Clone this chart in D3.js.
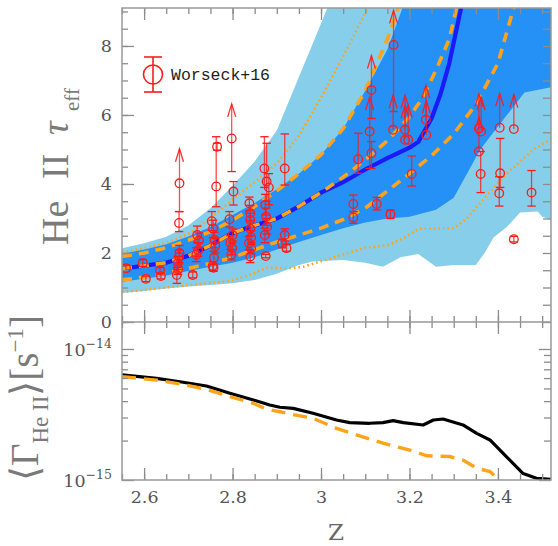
<!DOCTYPE html>
<html><head><meta charset="utf-8">
<script src="https://cdn.jsdelivr.net/npm/d3@7"></script>
<style>body{margin:0;background:#fff}</style>
</head><body><svg id="c" width="558" height="546"></svg>
<script>
// ---------------- data ----------------
const zMajor = [2.6, 2.8, 3.0, 3.2, 3.4];
const zMinor = d3.range(2.55, 3.5201, 0.05).map(v => +v.toFixed(2));
const tauMajor = [0, 2, 4, 6, 8];
const tauMinor = d3.range(0, 9.01, 0.5);
const gammaMajor = [1e-15, 1e-14];
const gammaMinor = [2e-15, 3e-15, 4e-15, 5e-15, 6e-15, 7e-15, 8e-15, 9e-15];

// model bands [z, tau]
const lightUpper = [[2.55,2.14],[2.6,2.28],[2.65,2.47],[2.7,2.8],[2.75,3.3],[2.8,3.95],[2.85,4.65],[2.9,5.55],[2.95,7.1],[3.0,8.65],[3.03,9.6],[3.1,12],[3.52,12]];
const lightLower = [[2.55,0.84],[2.6,0.9],[2.65,0.97],[2.7,1.03],[2.75,1.07],[2.8,1.12],[2.85,1.22],[2.9,1.4],[2.95,1.65],[2.98,1.75],[3.05,1.8],[3.1,1.72],[3.14,1.6],[3.18,1.88],[3.22,1.97],[3.26,1.6],[3.3,1.65],[3.35,1.65],[3.37,2.0],[3.39,2.45],[3.42,2.75],[3.45,3.17],[3.49,3.2],[3.5,3.05],[3.52,2.96]];
const darkUpper = [[2.55,1.98],[2.6,2.1],[2.65,2.25],[2.7,2.48],[2.75,2.75],[2.8,3.1],[2.85,3.45],[2.9,3.85],[2.95,4.3],[3.0,4.85],[3.05,5.6],[3.1,6.7],[3.15,7.9],[3.19,9.3],[3.25,12],[3.52,12]];
const darkLower = [[2.55,1.17],[2.6,1.25],[2.65,1.35],[2.7,1.48],[2.75,1.6],[2.8,1.72],[2.85,1.88],[2.9,2.1],[2.95,2.32],[3.0,2.52],[3.05,2.72],[3.1,2.88],[3.15,3.0],[3.2,3.05],[3.26,3.25],[3.3,3.6],[3.33,4.3],[3.36,5.0],[3.39,5.5],[3.46,6.65],[3.52,6.8]];
// model lines [z, tau]
const medianLine = [[2.55,1.55],[2.6,1.63],[2.65,1.72],[2.7,1.92],[2.75,2.22],[2.8,2.58],[2.85,2.8],[2.9,3.0],[2.95,3.35],[3.0,3.75],[3.05,4.05],[3.1,4.42],[3.15,4.75],[3.2,5.05],[3.22,5.22],[3.25,5.9],[3.27,6.6],[3.29,7.5],[3.32,9.3]];
const dashUpper = [[2.55,1.9],[2.6,2.0],[2.65,2.15],[2.7,2.37],[2.75,2.62],[2.8,2.95],[2.85,3.35],[2.9,3.8],[2.95,4.3],[3.0,4.85],[3.05,5.6],[3.1,6.7],[3.15,8.2],[3.18,9.3]];
const dashMid = [[2.55,1.55],[2.6,1.63],[2.65,1.72],[2.7,1.92],[2.75,2.22],[2.8,2.58],[2.85,2.8],[2.9,3.0],[2.95,3.35],[3.0,3.75],[3.05,4.2],[3.1,4.7],[3.15,5.25],[3.2,5.95],[3.23,6.5],[3.26,7.3],[3.29,8.2],[3.31,9.3]];
const dashLower = [[2.55,1.22],[2.6,1.3],[2.65,1.42],[2.7,1.55],[2.75,1.7],[2.8,1.87],[2.85,2.1],[2.9,2.32],[2.95,2.52],[3.0,2.72],[3.05,2.97],[3.1,3.3],[3.15,3.8],[3.2,4.3],[3.25,4.82],[3.3,5.45],[3.35,6.3],[3.4,7.5],[3.44,9.3]];
const dotUpper = [[2.55,2.02],[2.6,2.14],[2.65,2.3],[2.7,2.55],[2.75,3.0],[2.8,3.55],[2.85,4.05],[2.9,4.6],[2.95,5.4],[3.0,6.5],[3.05,7.7],[3.1,8.95],[3.12,9.4]];
const dotLower = [[2.55,0.87],[2.6,0.93],[2.65,1.0],[2.7,1.07],[2.75,1.13],[2.8,1.2],[2.85,1.42],[2.88,1.58],[2.92,1.55],[2.96,1.6],[3.03,1.88],[3.1,2.15],[3.15,2.22],[3.19,2.45],[3.22,2.7],[3.3,2.72],[3.33,3.0],[3.37,3.6],[3.42,4.3],[3.48,5.0],[3.52,5.3]];

// observations (Worseck+16)
const obsZ = [2.559,2.597,2.604,2.636,2.638,2.674,2.677,2.676,2.679,2.68,2.679,2.68,2.71,2.718,2.722,2.724,2.72,2.757,2.755,2.758,2.761,2.759,2.756,2.753,2.763,2.765,2.798,2.802,2.793,2.80,2.795,2.799,2.797,2.838,2.84,2.84,2.84,2.842,2.837,2.842,2.84,2.872,2.877,2.882,2.874,2.876,2.878,2.873,2.875,2.918,2.918,2.912,2.922,3.073,3.073,3.084,3.114,3.11,3.114,3.126,3.157,3.163,3.164,3.19,3.19,3.197,3.205,3.237,3.238,3.357,3.362,3.357,3.361,3.404,3.405,3.403,3.436,3.476,3.436];
const obsTau = [1.56,1.71,1.25,1.49,1.33,1.36,1.53,1.70,1.89,2.0,2.87,4.02,1.36,1.95,2.08,2.36,2.52,1.57,1.62,1.86,2.2,2.38,2.71,2.92,3.93,5.08,5.32,3.78,2.98,2.52,2.3,2.14,1.95,3.44,3.15,2.96,2.7,2.45,2.28,2.14,1.9,4.45,4.07,3.9,3.39,3.05,2.76,2.52,1.91,4.45,2.52,2.28,2.14,3.42,3.03,4.72,6.72,5.52,4.89,3.42,3.12,5.57,8.03,5.57,5.28,5.28,4.29,5.86,5.42,5.61,5.52,4.94,4.29,5.63,4.31,3.73,5.59,3.75,2.4];
const obsLo = [1.46,1.61,1.17,1.40,1.25,1.12,1.38,1.52,1.72,1.82,2.62,3.2,1.28,1.75,1.9,2.15,2.3,1.47,1.5,1.68,2.0,2.15,2.45,2.65,3.34,4.98,4.36,3.39,2.75,2.35,2.1,1.95,1.8,3.22,2.95,2.75,2.5,2.25,2.1,1.98,1.72,3.9,3.5,3.4,3.1,2.8,2.55,2.3,1.86,3.97,2.35,2.15,2.05,3.2,2.86,4.31,5.9,4.45,4.45,3.25,3.0,5.57,6.1,5.57,5.28,5.28,3.94,5.86,5.42,5.61,5.52,4.94,3.75,5.63,3.9,3.36,5.59,3.36,2.32];
const obsHi = [1.66,1.81,1.33,1.58,1.42,1.58,1.68,1.90,2.08,2.22,3.2,4.02,1.45,2.15,2.3,2.58,2.78,1.67,1.75,2.05,2.42,2.6,2.95,3.2,5.37,5.18,5.32,4.07,3.2,2.7,2.5,2.3,2.1,3.62,3.38,3.15,2.9,2.65,2.48,2.3,2.08,5.37,5.18,4.3,3.7,3.3,3.0,2.72,1.96,5.45,2.7,2.4,2.25,3.68,3.2,5.47,6.72,5.52,5.23,3.61,3.25,5.57,8.03,5.57,5.28,5.28,4.81,5.86,5.42,5.61,5.52,4.94,4.94,5.63,5.32,4.21,5.59,4.39,2.48];
const obsLimit = [0,0,0,0,0,0,0,0,0,0,0,1, 0,0,0,0,0, 0,0,0,0,0,0,0,0,0, 1,0,0,0,0,0,0, 0,0,0,0,0,0,0,0, 0,0,0,0,0,0,0,0, 0,0,0,0, 0,0,0, 1,1,0,0,0,1,1,1,1,1,0,1,1, 1,1,1,0,1,0,0,1,0,0];
const arrowLen = 1.0;

// photoionisation rate (units of 1e-15 s^-1)
const gammaZ = [2.55,2.628,2.681,2.741,2.794,2.847,2.884,2.907,2.937,2.982,3.035,3.065,3.11,3.14,3.163,3.186,3.231,3.254,3.276,3.321,3.352,3.382,3.419,3.457,3.487,3.52];
const gammaBlack = [6.34,5.97,5.62,5.22,4.59,4.08,3.74,3.59,3.52,3.23,2.87,2.74,2.71,2.74,2.84,2.74,2.63,2.87,2.92,2.63,2.27,2.02,1.51,1.12,1.03,1.01];
const gammaOrangeZ = [2.55,2.628,2.681,2.741,2.794,2.847,2.877,2.907,2.93,2.982,3.035,3.08,3.14,3.201,3.239,3.291,3.321,3.352,3.382,3.404,3.42];
const gammaOrange = [6.15,5.79,5.41,4.92,4.33,3.85,3.47,3.32,3.19,2.96,2.48,2.21,1.91,1.69,1.53,1.51,1.42,1.23,1.16,1.0,0.9];

// ---------------- drawing ----------------
const svg = d3.select("#c");
const X0 = 122, X1 = 551, YT0 = 8, YM = 322, YB1 = 480;
const x = d3.scaleLinear().domain([2.55, 3.52]).range([X0, X1]);
const yT = d3.scaleLinear().domain([0, 9.1]).range([YM, YT0]);
const yB = d3.scaleLog().domain([1e-15, Math.pow(10, -13.794)]).range([YB1, YM]);

const defs = svg.append("defs");
defs.append("clipPath").attr("id","clipT").append("rect").attr("x",X0).attr("y",YT0).attr("width",X1-X0).attr("height",YM-YT0);
defs.append("clipPath").attr("id","clipB").append("rect").attr("x",X0).attr("y",YM).attr("width",X1-X0).attr("height",YB1-YM);

const topG = svg.append("g").attr("clip-path","url(#clipT)");
const lineT = d3.line().x(d => x(d[0])).y(d => yT(d[1]));
function band(upper, lower) {
  return lineT(upper.concat(lower.slice().reverse())) + "Z";
}
topG.append("path").attr("d", band(lightUpper, lightLower)).attr("fill", "#87ceeb");
topG.append("path").attr("d", band(darkUpper, darkLower)).attr("fill", "#2590f5");

[dotUpper, dotLower].forEach(l => topG.append("path").attr("d", lineT(l))
  .attr("fill","none").attr("stroke","#ffa31a").attr("stroke-width",2.6).attr("stroke-dasharray","1.6,3"));
topG.append("path").attr("d", lineT(medianLine)).attr("fill","none")
  .attr("stroke","#1a1aff").attr("stroke-width",4.2);
[dashUpper, dashMid, dashLower].forEach(l => topG.append("path").attr("d", lineT(l))
  .attr("fill","none").attr("stroke","#ffa31a").attr("stroke-width",3.6).attr("stroke-dasharray","10,7"));

// observations
const red = "#ff1a1a";
const obs = obsZ.map((z,i) => ({z, t: obsTau[i], lo: obsLo[i], hi: obsHi[i], lim: obsLimit[i]}));
const og = topG.append("g").attr("stroke", red).attr("fill","none").attr("stroke-width",1.3);
obs.forEach(o => {
  const cx = x(o.z), cy = yT(o.t);
  const g = og.append("g");
  if (o.hi > o.lo) {
    g.append("line").attr("x1",cx).attr("x2",cx).attr("y1",yT(o.lo)).attr("y2",yT(o.hi)).attr("stroke-opacity",0.8);
    if (!(o.lim && Math.abs(o.hi - o.t) < 1e-6)) g.append("line").attr("x1",cx-4.2).attr("x2",cx+4.2).attr("y1",yT(o.hi)).attr("y2",yT(o.hi));
    g.append("line").attr("x1",cx-4.2).attr("x2",cx+4.2).attr("y1",yT(o.lo)).attr("y2",yT(o.lo));
  }
  if (o.lim) {
    const ty = yT(o.t + arrowLen);
    g.append("line").attr("x1",cx).attr("x2",cx).attr("y1",cy).attr("y2",ty).attr("stroke-opacity",0.75);
    g.append("path").attr("d", `M${cx-4},${ty+13}L${cx},${ty}L${cx+4},${ty+13}`).attr("stroke-opacity",0.9);
  }
  g.append("circle").attr("cx",cx).attr("cy",cy).attr("r",4.3);
});

// legend
const lg = svg.append("g").attr("stroke", red).attr("fill","none").attr("stroke-width",1.6);
lg.append("line").attr("x1",153).attr("x2",153).attr("y1",57).attr("y2",92);
lg.append("line").attr("x1",144).attr("x2",162).attr("y1",57).attr("y2",57);
lg.append("line").attr("x1",144).attr("x2",162).attr("y1",92).attr("y2",92);
lg.append("circle").attr("cx",153).attr("cy",74.5).attr("r",9.5);
svg.append("text").attr("x",171).attr("y",80).attr("font-family","Liberation Mono, monospace")
  .attr("font-size",16.5).attr("fill","#222").text("Worseck+16");

// bottom panel
const botG = svg.append("g").attr("clip-path","url(#clipB)");
const lineB = d3.line().x(d => x(d[0])).y(d => yB(d[1] * 1e-15));
botG.append("path").attr("d", lineB(gammaZ.map((z,i) => [z, gammaBlack[i]])))
  .attr("fill","none").attr("stroke","#000").attr("stroke-width",3.2).attr("stroke-linejoin","round");
botG.append("path").attr("d", lineB(gammaOrangeZ.map((z,i) => [z, gammaOrange[i]])))
  .attr("fill","none").attr("stroke","#ffa31a").attr("stroke-width",3.4).attr("stroke-dasharray","14,8");

// axes
const tickCol = "#8c8c8c";
function styleAxis(g) {
  g.select(".domain").remove();
  g.selectAll(".tick line").attr("stroke", tickCol).attr("stroke-width", 1.3);
  g.selectAll(".tick text").attr("fill", "#555").attr("font-family", "DejaVu Serif, serif").attr("font-size", 17.5);
}
function addAxis(axis, tx, ty) {
  svg.append("g").attr("transform", `translate(${tx},${ty})`).call(axis).call(styleAxis);
}
const nolab = () => "";
// top panel
addAxis(d3.axisTop(x).tickValues(zMajor).tickSize(-12).tickFormat(nolab), 0, YT0);
addAxis(d3.axisTop(x).tickValues(zMinor).tickSize(-6).tickFormat(nolab), 0, YT0);
addAxis(d3.axisBottom(x).tickValues(zMajor).tickSize(-12).tickFormat(nolab), 0, YM);
addAxis(d3.axisBottom(x).tickValues(zMinor).tickSize(-6).tickFormat(nolab), 0, YM);
addAxis(d3.axisLeft(yT).tickValues(tauMajor).tickSize(-12).tickPadding(10).tickFormat(d3.format("d")), X0, 0);
addAxis(d3.axisLeft(yT).tickValues(tauMinor).tickSize(-6).tickFormat(nolab), X0, 0);
addAxis(d3.axisRight(yT).tickValues(tauMinor).tickSize(-8).tickFormat(nolab), X1, 0);
// bottom panel
addAxis(d3.axisTop(x).tickValues(zMajor).tickSize(-12).tickFormat(nolab), 0, YM);
addAxis(d3.axisTop(x).tickValues(zMinor).tickSize(-6).tickFormat(nolab), 0, YM);
addAxis(d3.axisBottom(x).tickValues(zMajor).tickSize(-12).tickPadding(11).tickFormat(d3.format("~g")), 0, YB1);
addAxis(d3.axisBottom(x).tickValues(zMinor).tickSize(-6).tickFormat(nolab), 0, YB1);
addAxis(d3.axisLeft(yB).tickValues(gammaMajor).tickSize(-12).tickFormat(nolab), X0, 0);
addAxis(d3.axisLeft(yB).tickValues(gammaMinor).tickSize(-6).tickFormat(nolab), X0, 0);
addAxis(d3.axisRight(yB).tickValues(gammaMajor).tickSize(-12).tickFormat(nolab), X1, 0);
addAxis(d3.axisRight(yB).tickValues(gammaMinor).tickSize(-7).tickFormat(nolab), X1, 0);

// frame
svg.append("rect").attr("x",X0).attr("y",YT0).attr("width",X1-X0).attr("height",YB1-YT0)
  .attr("fill","none").attr("stroke","#999").attr("stroke-width",1.5);
svg.append("line").attr("x1",X0).attr("x2",X1).attr("y1",YM).attr("y2",YM).attr("stroke","#999").attr("stroke-width",1.5);

// log tick labels
gammaMajor.forEach(v => {
  const t = svg.append("text").attr("x",112).attr("y",yB(v)+7).attr("text-anchor","end")
    .attr("font-family","DejaVu Serif, serif").attr("fill","#555");
  t.append("tspan").attr("font-size",17.5).text("10");
  t.append("tspan").attr("font-size",12.5).attr("dy",-8).text("\u2212" + Math.round(-Math.log10(v)));
});

// axis titles
svg.append("text").attr("x",336).attr("y",540).attr("text-anchor","middle")
  .attr("font-family","DejaVu Serif, serif").attr("font-size",23).attr("fill","#666").text("Z");

const yl = svg.append("g").attr("transform","translate(68,245) rotate(-90)")
  .attr("font-family","Liberation Serif, serif").attr("fill","#7a7a7a");
yl.append("text").attr("x",0).attr("y",0).attr("font-size",38).text("He");
yl.append("text").attr("x",66).attr("y",0).attr("font-size",38).text("II");
yl.append("text").attr("x",110).attr("y",0).attr("font-size",38).attr("font-style","italic").text("\u03c4");
yl.append("text").attr("x",134).attr("y",11).attr("font-size",21).text("eff");

const bl = svg.append("g").attr("transform","translate(38,398) rotate(-90)")
  .attr("font-family","Liberation Serif, serif").attr("fill","#7a7a7a");
const bt = bl.append("text").attr("text-anchor","middle").attr("font-size",39);
bt.append("tspan").text("\u27e8");
bt.append("tspan").text("\u0393");
bt.append("tspan").attr("font-size",23).attr("dy",10).text("He II");
bt.append("tspan").attr("dy",-10).text("\u27e9[");
bt.append("tspan").text("s");
bt.append("tspan").attr("font-size",23).attr("dy",-15).text("\u22121");
bt.append("tspan").attr("dy",15).text("]");
</script></body></html>
